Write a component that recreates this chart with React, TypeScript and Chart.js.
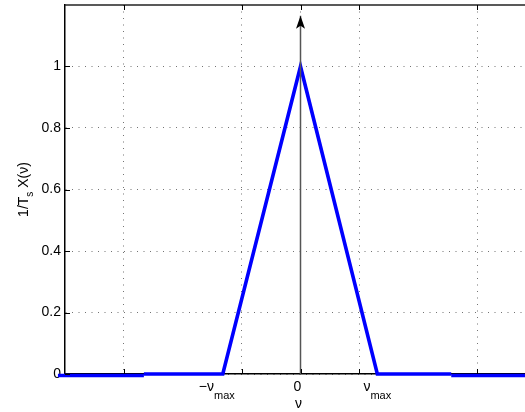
import React, { useEffect, useRef } from "react";
import { Chart, registerables } from "chart.js";
Chart.register(...registerables);

// ---- data ----
const xTicks = [-3, -1, 0, 1, 3];
const yTicks = [0, 0.2, 0.4, 0.6, 0.8, 1];
const xMin = -4;
const xMax = 4;
const yMin = 0;
const yMax = 1.2;
const spectrumX = [-2.66, -1.32, 0, 1.305, 2.56];
const spectrumY = [0, 0, 1, 0, 0];
const outerLeftX = [-4.12, -2.66];
const outerRightX = [2.56, 4.1];
const outerY = [-0.005, -0.005];
const arrowX = [0, 0];
const arrowY = [0, 1.165];
const xLabelValues = [-1.32, 0, 1.305];
const xLabelMain = ["\u2212\u03bd", "0", "\u03bd"];
const xLabelSub = ["max", "", "max"];
const xAxisTitle = "\u03bd";
const yTitleParts = [
  { text: "1/T", sub: false },
  { text: "s", sub: true },
  { text: " X(\u03bd)", sub: false },
];

const FONT = '"Liberation Sans", Arial, Helvetica, sans-serif';
const pts = (xs: number[], ys: number[]) => xs.map((x, i) => ({ x, y: ys[i] }));

const decor = {
  id: "decor",
  afterDatasetsDraw(chart: any) {
    const { ctx, chartArea: a, scales } = chart;
    const xs = scales.x;
    const ys = scales.y;
    ctx.save();
    // top border
    ctx.strokeStyle = "#222";
    ctx.lineWidth = 1.5;
    ctx.beginPath();
    ctx.moveTo(a.left, a.top);
    ctx.lineTo(a.right, a.top);
    ctx.stroke();
    // inward ticks
    ctx.strokeStyle = "#000";
    ctx.lineWidth = 1;
    ctx.beginPath();
    xTicks.forEach((v) => {
      const px = Math.round(xs.getPixelForValue(v)) + 0.5;
      ctx.moveTo(px, a.bottom);
      ctx.lineTo(px, a.bottom - 5);
      ctx.moveTo(px, a.top);
      ctx.lineTo(px, a.top + 5);
    });
    yTicks.forEach((v) => {
      const py = Math.round(ys.getPixelForValue(v)) + 0.5;
      ctx.moveTo(a.left, py);
      ctx.lineTo(a.left + 5, py);
    });
    ctx.stroke();

    // arrow head
    const ax = xs.getPixelForValue(arrowX[1]);
    const ay = ys.getPixelForValue(arrowY[1]);
    ctx.fillStyle = "#000";
    ctx.beginPath();
    ctx.moveTo(ax, ay);
    ctx.lineTo(ax + 4.5, ay + 13);
    ctx.lineTo(ax, ay + 10);
    ctx.lineTo(ax - 4.5, ay + 13);
    ctx.closePath();
    ctx.fill();

    // x tick labels
    ctx.fillStyle = "#000";
    ctx.textBaseline = "alphabetic";
    ctx.textAlign = "left";
    const dxs = [-6, -3, 0];
    xLabelValues.forEach((v, i) => {
      ctx.font = `14px ${FONT}`;
      const w1 = ctx.measureText(xLabelMain[i]).width;
      ctx.font = `11px ${FONT}`;
      const w2 = xLabelSub[i] ? ctx.measureText(xLabelSub[i]).width : 0;
      const cx = xs.getPixelForValue(v) + dxs[i];
      const start = cx - (w1 + w2) / 2;
      ctx.font = `14px ${FONT}`;
      ctx.fillText(xLabelMain[i], start, 391);
      if (xLabelSub[i]) {
        ctx.font = `11px ${FONT}`;
        ctx.fillText(xLabelSub[i], start + w1, 399);
      }
    });
    // x axis title
    ctx.font = `14px ${FONT}`;
    ctx.textAlign = "center";
    ctx.fillText(xAxisTitle, xs.getPixelForValue(0) - 2, 408);

    // y axis title (rotated)
    ctx.save();
    ctx.translate(28, (a.top + a.bottom) / 2);
    ctx.rotate(-Math.PI / 2);
    ctx.textAlign = "left";
    let total = 0;
    const widths = yTitleParts.map((p) => {
      ctx.font = `${p.sub ? 10 : 14}px ${FONT}`;
      const w = ctx.measureText(p.text).width;
      total += w;
      return w;
    });
    let cur = -total / 2;
    yTitleParts.forEach((p, i) => {
      ctx.font = `${p.sub ? 10 : 14}px ${FONT}`;
      ctx.fillText(p.text, cur, p.sub ? 5 : 0);
      cur += widths[i];
    });
    ctx.restore();
    ctx.restore();
  },
};

export default function App() {
  const ref = useRef<HTMLCanvasElement>(null);
  useEffect(() => {
    if (!ref.current) return;
    const chart = new Chart(ref.current, {
      type: "scatter",
      data: {
        datasets: [
          {
            data: pts(arrowX, arrowY),
            showLine: true,
            borderColor: "#555",
            borderWidth: 1.5,
            pointRadius: 0,
            clip: false as any,
          },
          {
            data: pts(spectrumX, spectrumY),
            showLine: true,
            borderColor: "#0000ff",
            borderWidth: 3.6,
            borderJoinStyle: "miter",
            pointRadius: 0,
            clip: false as any,
          },
          {
            data: pts(outerLeftX, outerY),
            showLine: true,
            borderColor: "#0000ff",
            borderWidth: 3.6,
            pointRadius: 0,
            clip: false as any,
          },
          {
            data: pts(outerRightX, outerY),
            showLine: true,
            borderColor: "#0000ff",
            borderWidth: 3.6,
            pointRadius: 0,
            clip: false as any,
          },
        ],
      },
      options: {
        animation: false,
        responsive: false,
        events: [],
        layout: { padding: { top: 5, right: 4, left: 0, bottom: 0 } },
        plugins: { legend: { display: false }, tooltip: { enabled: false } },
        scales: {
          x: {
            type: "linear",
            min: xMin,
            max: xMax,
            afterBuildTicks: (s: any) => {
              s.ticks = xTicks.map((v) => ({ value: v }));
            },
            afterFit: (s: any) => {
              s.height = 38;
              s.paddingLeft = 0;
              s.paddingRight = 0;
            },
            ticks: { display: false },
            grid: { color: "rgba(0,0,0,0.55)", lineWidth: 1, drawTicks: false },
            border: { display: true, color: "#000", width: 1.5, dash: [1, 5.5] },
          },
          y: {
            type: "linear",
            min: yMin,
            max: yMax,
            afterBuildTicks: (s: any) => {
              s.ticks = yTicks.map((v) => ({ value: v }));
            },
            afterFit: (s: any) => {
              s.width = 65;
              s.paddingTop = 0;
              s.paddingBottom = 0;
            },
            ticks: {
              padding: 4,
              color: "#000",
              font: { family: FONT, size: 14 },
              callback: (v: any) => String(+Number(v).toFixed(1)),
            },
            grid: { color: "rgba(0,0,0,0.55)", lineWidth: 1, drawTicks: false },
            border: { display: true, color: "#000", width: 1.5, dash: [1, 5.5] },
          },
        },
      },
      plugins: [decor],
    });
    return () => chart.destroy();
  }, []);
  return (
    <div
      style={{
        position: "absolute",
        left: 0,
        top: 0,
        width: 525,
        height: 412,
        overflow: "hidden",
        background: "#fff",
      }}
    >
      <canvas ref={ref} width={540} height={412} style={{ display: "block" }} />
    </div>
  );
}
